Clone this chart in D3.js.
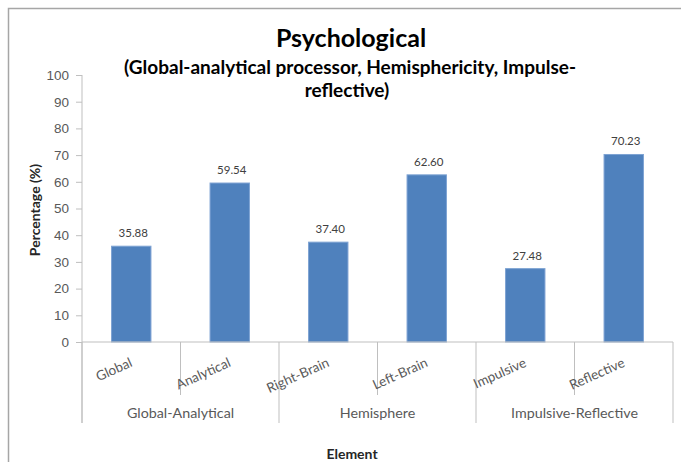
<!DOCTYPE html>
<html lang="en">
<head>
<meta charset="UTF-8">
<title>Psychological</title>
<script src="https://cdn.jsdelivr.net/npm/d3@7"></script>
<style>
    body { margin: 0; background: #fff; }
    svg { font-family: Lato, "Noto Sans", sans-serif; }
    .tick text { fill: #595959; font-size: 13.5px; }
</style>
</head>
<body>
<svg width="681" height="462"></svg>
<script>
    // chart data
    var categories = ["Global", "Analytical", "Right-Brain", "Left-Brain", "Impulsive", "Reflective"];
    var values = [35.88, 59.54, 37.40, 62.60, 27.48, 70.23];
    var groups = ["Global-Analytical", "Hemisphere", "Impulsive-Reflective"];
    var yTicks = [0, 10, 20, 30, 40, 50, 60, 70, 80, 90, 100];

    var svg = d3.select("svg");
    var plotLeft = 82, plotRight = 673, plotTop = 75, plotBottom = 342;

    // outer frame (only top and left edges fall inside the picture)
    svg.append("rect")
        .attr("x", 8.5).attr("y", 8.5)
        .attr("width", 700).attr("height", 500)
        .attr("fill", "none")
        .attr("stroke", "#a6a6a6")
        .attr("stroke-width", 1.5);

    var x = d3.scaleBand()
        .domain(categories)
        .range([plotLeft, plotRight])
        .paddingInner(0.6)
        .paddingOuter(0.3);

    var y = d3.scaleLinear()
        .domain([0, 100])
        .range([plotBottom, plotTop]);

    // y axis
    var yAxis = svg.append("g")
        .attr("transform", "translate(" + plotLeft + ",0)")
        .call(d3.axisLeft(y).tickValues(yTicks).tickSize(6).tickPadding(7));
    yAxis.selectAll("line").attr("stroke", "#bfbfbf");
    yAxis.select(".domain").attr("stroke", "#bfbfbf").attr("d", "M0," + plotTop + "V423");

    // bars
    svg.selectAll(".bar")
        .data(values)
        .enter().append("rect")
        .attr("class", "bar")
        .attr("x", function (d, i) { return x(categories[i]); })
        .attr("y", function (d) { return y(d); })
        .attr("width", x.bandwidth())
        .attr("height", function (d) { return y(0) - y(d); })
        .attr("fill", "#4f81bd")
        .attr("stroke", "#7ea3d3")
        .attr("stroke-width", 1);

    // value labels
    svg.selectAll(".val")
        .data(values)
        .enter().append("text")
        .attr("class", "val")
        .attr("x", function (d, i) { return x(categories[i]) + x.bandwidth() / 2 + 2; })
        .attr("y", function (d) { return y(d) - 9; })
        .attr("text-anchor", "middle")
        .attr("font-size", 11.5)
        .attr("fill", "#404040")
        .text(function (d) { return d.toFixed(2); });

    // x axis baseline
    svg.append("line")
        .attr("x1", plotLeft).attr("x2", plotRight)
        .attr("y1", plotBottom).attr("y2", plotBottom)
        .attr("stroke", "#bfbfbf");

    var step = x.step();
    var groupW = (plotRight - plotLeft) / groups.length;

    // separators between categories inside a group
    categories.forEach(function (c, i) {
        if (i % 2 === 1) {
            var sx = x(c) - x.paddingInner() * step / 2;
            svg.append("line")
                .attr("x1", sx).attr("x2", sx)
                .attr("y1", plotBottom).attr("y2", 395)
                .attr("stroke", "#bfbfbf");
        }
    });
    // separators between groups
    d3.range(groups.length + 1).forEach(function (g) {
        svg.append("line")
            .attr("x1", plotLeft + g * groupW).attr("x2", plotLeft + g * groupW)
            .attr("y1", plotBottom).attr("y2", 423)
            .attr("stroke", "#bfbfbf");
    });

    // category labels, tilted
    svg.selectAll(".cat")
        .data(categories)
        .enter().append("text")
        .attr("class", "cat")
        .attr("transform", function (d) {
            return "translate(" + (x(d) + x.bandwidth() / 2 + 2) + ",366) rotate(-24)";
        })
        .attr("text-anchor", "end")
        .attr("font-size", 13.5)
        .attr("fill", "#595959")
        .text(function (d) { return d; });

    // group labels
    svg.selectAll(".grp")
        .data(groups)
        .enter().append("text")
        .attr("class", "grp")
        .attr("x", function (d, i) { return plotLeft + (i + 0.5) * groupW; })
        .attr("y", 418)
        .attr("text-anchor", "middle")
        .attr("font-size", 14.3)
        .attr("fill", "#595959")
        .text(function (d) { return d; });

    // titles
    svg.append("text")
        .attr("x", 351).attr("y", 47)
        .attr("text-anchor", "middle")
        .attr("font-size", 25).attr("font-weight", "bold")
        .attr("fill", "#000")
        .text("Psychological");
    svg.append("text")
        .attr("x", 350).attr("y", 74)
        .attr("text-anchor", "middle")
        .attr("font-size", 19).attr("font-weight", "bold")
        .attr("fill", "#000")
        .text("(Global-analytical processor, Hemisphericity, Impulse-");
    svg.append("text")
        .attr("x", 347).attr("y", 97)
        .attr("text-anchor", "middle")
        .attr("font-size", 19).attr("font-weight", "bold")
        .attr("fill", "#000")
        .text("reflective)");

    // axis titles
    svg.append("text")
        .attr("transform", "translate(40,210) rotate(-90)")
        .attr("text-anchor", "middle")
        .attr("font-size", 14).attr("font-weight", "bold")
        .attr("fill", "#262626")
        .text("Percentage (%)");
    svg.append("text")
        .attr("x", 352).attr("y", 459)
        .attr("text-anchor", "middle")
        .attr("font-size", 14).attr("font-weight", "bold")
        .attr("fill", "#262626")
        .text("Element");
</script>
</body>
</html>
